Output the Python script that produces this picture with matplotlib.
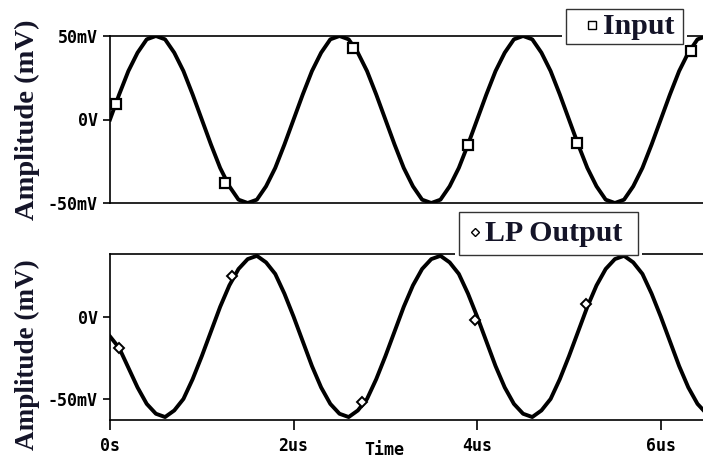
import matplotlib.pyplot as plt
from matplotlib.patches import Rectangle

# sample times (us) and traces (mV)
time_us = [0.0, 0.1, 0.2, 0.3, 0.4, 0.5, 0.6, 0.7, 0.8, 0.9,
           1.0, 1.1, 1.2, 1.3, 1.4, 1.5, 1.6, 1.7, 1.8, 1.9,
           2.0, 2.1, 2.2, 2.3, 2.4, 2.5, 2.6, 2.7, 2.8, 2.9,
           3.0, 3.1, 3.2, 3.3, 3.4, 3.5, 3.6, 3.7, 3.8, 3.9,
           4.0, 4.1, 4.2, 4.3, 4.4, 4.5, 4.6, 4.7, 4.8, 4.9,
           5.0, 5.1, 5.2, 5.3, 5.4, 5.5, 5.6, 5.7, 5.8, 5.9,
           6.0, 6.1, 6.2, 6.3, 6.4, 6.5]
input_mv = [0, 15, 29, 40, 48, 50, 48, 40, 29, 15,
            0, -15, -29, -40, -48, -50, -48, -40, -29, -15,
            0, 15, 29, 40, 48, 50, 48, 40, 29, 15,
            0, -15, -29, -40, -48, -50, -48, -40, -29, -15,
            0, 15, 29, 40, 48, 50, 48, 40, 29, 15,
            0, -15, -29, -40, -48, -50, -48, -40, -29, -15,
            0, 15, 29, 40, 48, 50]
output_mv = [-12, -19, -31, -43, -53, -59, -61, -57, -50, -38,
             -24, -9, 6, 19, 29, 35, 37, 33, 26, 14,
             0, -15, -30, -43, -53, -59, -61, -57, -50, -38,
             -24, -9, 6, 19, 29, 35, 37, 33, 26, 14,
             0, -15, -30, -43, -53, -59, -61, -57, -50, -38,
             -24, -9, 6, 19, 29, 35, 37, 33, 26, 14,
             0, -15, -30, -43, -53, -59]

# trace markers
in_mark_t = [0.06, 1.25, 2.65, 3.90, 5.09, 6.33]
in_mark_v = [9, -38, 43, -15, -14, 41]
out_mark_t = [0.10, 1.33, 2.74, 3.98, 5.19]
out_mark_v = [-19, 25, -52, -2, 8]

x_ticks = [0, 2, 4, 6]
x_ticklabels = ['0s', '2us', '4us', '6us']

W, H = 703, 468
fig = plt.figure(figsize=(W / 100, H / 100), dpi=100)

def px_box(left, top, right, bottom):
    return [left / W, 1 - bottom / H, (right - left) / W, (bottom - top) / H]

mono = dict(family='DejaVu Sans Mono', weight='bold', size=12)
serif_col = '#141428'

ax1 = fig.add_axes(px_box(110, 36, 703, 203))
ax2 = fig.add_axes(px_box(110, 254, 703, 420))

for ax in (ax1, ax2):
    ax.set_xlim(0, 6.46)
    ax.spines['right'].set_visible(False)
    for s in ('left', 'top', 'bottom'):
        ax.spines[s].set_linewidth(1.2)
    ax.tick_params(axis='y', direction='out', length=5, width=1.2, pad=4)

ax1.plot(time_us, input_mv, color='black', lw=2.8, zorder=3)
ax1.plot(in_mark_t, in_mark_v, ls='none', marker='s', ms=6.5, mfc='white',
         mec='black', mew=1.6, zorder=4)
ax1.set_ylim(-50, 50)
ax1.set_yticks([50, 0, -50])
ax1.set_yticklabels(['50mV', '0V', '-50mV'], fontdict=mono)
ax1.set_xticks([])

ax2.plot(time_us, output_mv, color='black', lw=2.8, zorder=3)
ax2.plot(out_mark_t, out_mark_v, ls='none', marker='D', ms=5, mfc='white',
         mec='black', mew=1.4, zorder=4)
ax2.set_ylim(-62.8, 38.1)
ax2.set_yticks([0, -50])
ax2.set_yticklabels(['0V', '-50mV'], fontdict=mono)
ax2.set_xticks(x_ticks)
ax2.set_xticklabels(x_ticklabels, fontdict=mono)
ax2.tick_params(axis='x', direction='out', length=7, width=1.2, pad=5)

# axis labels
fig.text(27 / W, 1 - 120 / H, 'Amplitude (mV)', rotation=90, ha='center',
         va='center', family='Liberation Serif', weight='bold', size=20.5,
         color=serif_col)
fig.text(27 / W, 1 - 355 / H, 'Amplitude (mV)', rotation=90, ha='center',
         va='center', family='Liberation Serif', weight='bold', size=19.5,
         color=serif_col)
fig.text(384 / W, 1 - 450 / H, 'Time', ha='center', va='center',
         family='DejaVu Sans Mono', weight='bold', size=12, color='black')

# legend boxes (white gap around each box)
def legend_box(left, top, right, bottom, mark, mark_x, text, text_x, ms):
    gap = Rectangle(((left - 4) / W, 1 - (bottom + 1) / H),
                    (right - left + 8) / W, (bottom - top + 2) / H,
                    transform=fig.transFigure, facecolor='white',
                    edgecolor='none', zorder=5)
    fig.patches.append(gap)
    box = Rectangle((left / W, 1 - bottom / H), (right - left) / W,
                    (bottom - top) / H, transform=fig.transFigure,
                    facecolor='white', edgecolor='#333333', lw=1.0, zorder=6)
    fig.patches.append(box)
    cy = 1 - (top + bottom) / 2 / H
    fig.lines.append(plt.Line2D([mark_x / W], [cy + 2 / H], marker=mark,
                                ms=ms, mfc='white', mec='black', mew=1.0,
                                ls='none', transform=fig.transFigure,
                                zorder=7))
    fig.text(text_x / W, cy, text, ha='left', va='center',
             family='Liberation Serif', weight='bold', size=21.5,
             color=serif_col, zorder=8)

legend_box(566, 9, 683, 44, 's', 592, 'Input', 603, 6)
legend_box(459, 212, 638, 255, 'D', 475, 'LP Output', 485, 4.5)

fig.savefig('out.png', dpi=100)
